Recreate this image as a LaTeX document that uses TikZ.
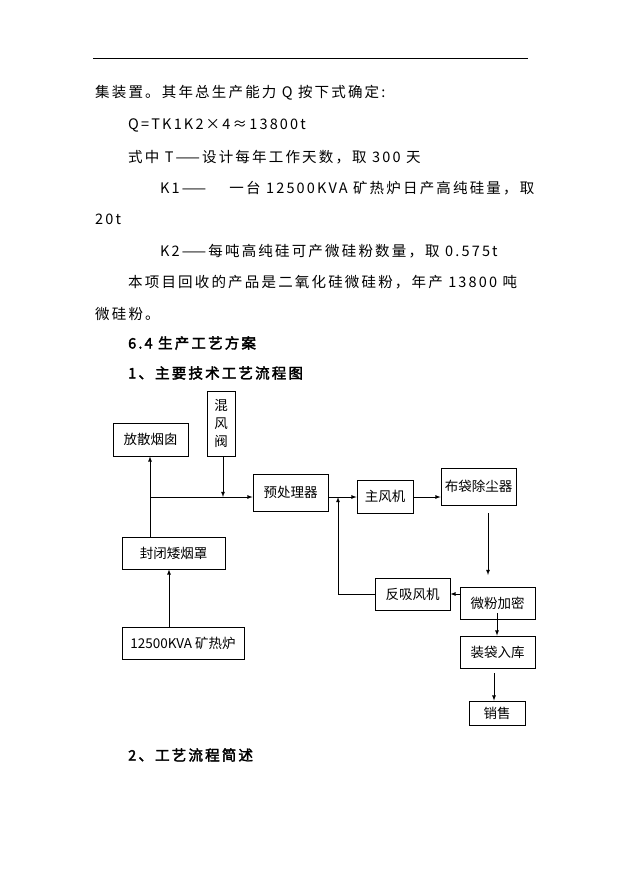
\documentclass[tikz,border=0pt]{standalone}
\usepackage{fontspec}
\setmainfont{Liberation Serif}
\newfontfamily\cjk[AutoFakeBold=2.5]{Noto Sans CJK SC}
\newfontfamily\cjkwide[AutoFakeBold=2.5, LetterSpace=15]{Noto Sans CJK SC}
\usetikzlibrary{positioning}
\tikzset{
    box/.style={draw, thick, inner sep=0pt, font=\cjk\fontsize{13.5}{15}\selectfont},
    para/.style={anchor=west, inner sep=0pt, font=\cjkwide\fontsize{14.5}{16}\selectfont},
    head/.style={para, font=\cjkwide\bfseries\fontsize{14.5}{16}\selectfont},
    flow/.style={draw, thick, -latex}
}
\begin{document}
\begin{tikzpicture}[x=1pt, y=-1pt]
\useasboundingbox (0,0) rectangle (621,877);
% header rule and text
\draw[thick] (93,58) -- (528,58);
\node[para] (l1) at (95,93) {集装置。其年总生产能力 Q 按下式确定:};
\node[para] (l2) at (128,125) {Q=TK1K2×4≈13800t};
\node[para] (l3) at (128,157) {式中 T——设计每年工作天数，取 300 天};
\node[para] (l4) at (160,188) {K1——\hspace{1.6em}一台 12500KVA 矿热炉日产高纯硅量，取};
\node[para] (l5) at (95,219) {20t};
\node[para] (l6) at (160,251) {K2——每吨高纯硅可产微硅粉数量，取 0.575t};
\node[para] (l7) at (128,282) {本项目回收的产品是二氧化硅微硅粉，年产 13800 吨};
\node[para] (l8) at (95,314) {微硅粉。};
\node[head] (h1) at (128,343) {6.4 生产工艺方案};
\node[head] (h2) at (128,373) {1、主要技术工艺流程图};
\node[head] (h3) at (128,755) {2、工艺流程简述};
% flow chart
\node[box, minimum width=75pt, minimum height=33pt] (chimney) at (150.5,439.5) {放散烟囱};
\node[box, minimum width=28pt, minimum height=65pt, align=center] (valve) at (221,423.5) {混\\[3pt]风\\[3pt]阀};
\node[box, minimum width=75pt, minimum height=37pt] (pre) at (290.5,492.5) {预处理器};
\node[box, minimum width=56pt, minimum height=33pt] (fan) at (385,496.5) {主风机};
\node[box, minimum width=75pt, minimum height=37pt] (bag) at (478.5,486.5) {布袋除尘器};
\node[box, minimum width=103pt, minimum height=32pt] (hood) at (173.5,553) {封闭矮烟罩};
\node[box, minimum width=122pt, minimum height=32pt] (furnace) at (183,643) {12500KVA 矿热炉};
\node[box, minimum width=75pt, minimum height=32pt] (back) at (412.5,594) {反吸风机};
\node[box, minimum width=75pt, minimum height=32pt] (dense) at (497.5,603) {微粉加密};
\node[box, minimum width=75pt, minimum height=32pt] (pack) at (497.5,652) {装袋入库};
\node[box, minimum width=56pt, minimum height=24pt] (sale) at (497,713) {销售};
\coordinate (split) at (150,497);
\coordinate (join) at (338,497);
\coordinate (bagout) at (488,513);
\draw[flow] (furnace.north -| 169,0) -- (hood.south -| 169,0);
\draw[flow] (hood.north -| split) -- (chimney.south -| split);
\draw[flow] (split) -- (pre.west |- split);
\draw[flow] (valve.south -| 223,0) -- (223,497);
\draw[flow] (pre.east |- join) -- (fan.west |- join);
\draw[flow] (fan.east |- join) -- (bag.west |- join);
\draw[flow] (back.west) -- (join |- back.west) -- (join);
\draw[flow] (bagout) -- (488,575);
\draw[flow] (dense.west |- back.west) -- (back.east);
\draw[flow] (497,613) -- (pack.north -| 497,0);
\draw[flow] (494,673) -- (sale.north -| 494,0);
\end{tikzpicture}
\end{document}
